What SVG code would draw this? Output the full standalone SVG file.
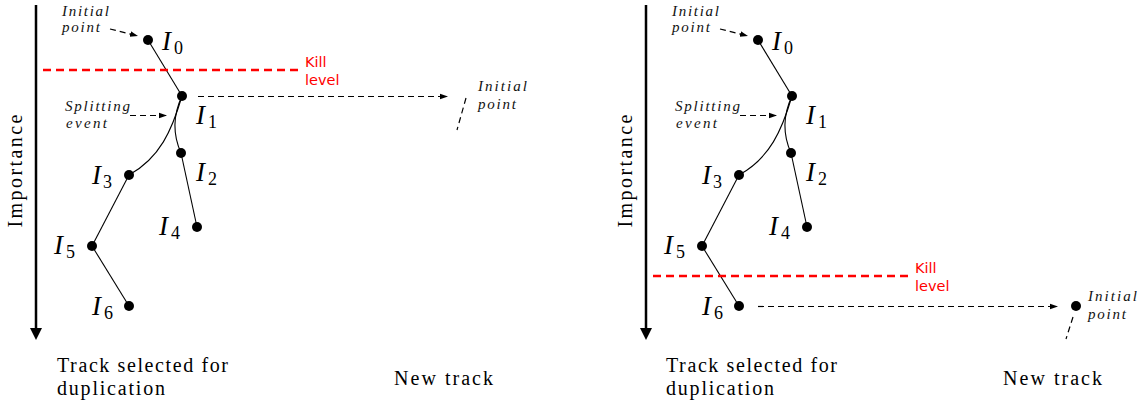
<svg xmlns="http://www.w3.org/2000/svg" width="1143" height="408" viewBox="0 0 1143 408">
<style>
.ax{stroke:#000;stroke-width:2.5;fill:none}
.ln{stroke:#000;stroke-width:1.1;fill:none}
.da{stroke:#000;stroke-width:1.2;fill:none;stroke-dasharray:6,4}
.kill{stroke:#f00;stroke-width:2.4;fill:none;stroke-dasharray:8,5}
.dot{fill:#000}
.mi{font-family:"Liberation Serif","Times New Roman",serif;font-style:italic;font-size:27px;fill:#000}
.sub{font-family:"Liberation Serif","Times New Roman",serif;font-size:18px;fill:#000}
.it{font-family:"Liberation Serif","Times New Roman",serif;font-style:italic;font-size:15px;fill:#111}
.tx{font-family:"Liberation Serif","Times New Roman",serif;font-size:20px;fill:#000}
.kt{font-family:"DejaVu Sans","Liberation Sans",sans-serif;font-size:14.5px;fill:#f00}
</style>
<defs>
<marker id="ah" viewBox="0 0 10 10" refX="10" refY="5" markerWidth="8" markerHeight="8" markerUnits="userSpaceOnUse" orient="auto"><path d="M0,1.5 L10,5 L0,8.5 Z" fill="#000"/></marker>
</defs>

<!-- LEFT PANEL -->
<g id="left-axis">
<line class="ax" x1="36" y1="5" x2="36" y2="329"/>
<path d="M30,328 L42,328 L36,340 Z" fill="#000"/>
<text class="tx" transform="translate(22,171) rotate(-90)" text-anchor="middle" textLength="113">Importance</text>
</g>
<g id="left-connectors">
<line class="ln" x1="148" y1="40" x2="182" y2="96"/>
<path class="ln" d="M182,96 C172,130 160,158 129,175"/>
<path class="ln" d="M182,96 C173,115 173,135 181,153"/>
<line class="ln" x1="181" y1="153" x2="197" y2="227"/>
<line class="ln" x1="129" y1="175" x2="92" y2="246"/>
<line class="ln" x1="92" y1="246" x2="129" y2="306"/>
<line class="da" x1="110" y1="29" x2="138" y2="36" marker-end="url(#ah)"/>
<line class="da" x1="130" y1="115.5" x2="167" y2="115.5" marker-end="url(#ah)"/>
<line class="da" x1="198" y1="96.5" x2="448" y2="96.5" marker-end="url(#ah)"/>
<line class="da" x1="466" y1="98" x2="457" y2="130"/>
</g>
<g id="left-kill">
<line class="kill" x1="43" y1="70" x2="298" y2="70"/>
<text class="kt" x="305" y="67">Kill</text>
<text class="kt" x="305" y="85">level</text>
</g>
<g id="left-I0"><circle class="dot" cx="148" cy="40" r="5"/><text class="mi" x="162" y="50">I</text><text class="sub" x="174" y="54">0</text></g>
<g id="left-I1"><circle class="dot" cx="182" cy="96" r="5"/><text class="mi" x="196" y="124">I</text><text class="sub" x="208" y="128">1</text></g>
<g id="left-I2"><circle class="dot" cx="181" cy="153" r="5"/><text class="mi" x="196" y="181">I</text><text class="sub" x="208" y="185">2</text></g>
<g id="left-I3"><circle class="dot" cx="129" cy="175" r="5"/><text class="mi" x="92" y="184">I</text><text class="sub" x="103" y="188">3</text></g>
<g id="left-I4"><circle class="dot" cx="197" cy="227" r="5"/><text class="mi" x="159" y="235">I</text><text class="sub" x="171" y="239">4</text></g>
<g id="left-I5"><circle class="dot" cx="92" cy="246" r="5"/><text class="mi" x="54" y="254">I</text><text class="sub" x="66" y="258">5</text></g>
<g id="left-I6"><circle class="dot" cx="129" cy="306" r="5"/><text class="mi" x="92" y="315">I</text><text class="sub" x="104" y="319">6</text></g>
<g id="left-labels">
<text class="it" x="62" y="16" textLength="47">Initial</text>
<text class="it" x="62" y="32" textLength="38">point</text>
<text class="it" x="65" y="111" textLength="65">Splitting</text>
<text class="it" x="66" y="128" textLength="41">event</text>
<text class="it" x="478" y="91" textLength="49">Initial</text>
<text class="it" x="478" y="109" textLength="38">point</text>
<text class="tx" x="57" y="372" textLength="171">Track selected for</text>
<text class="tx" x="57" y="395" textLength="108">duplication</text>
<text class="tx" x="394" y="385" textLength="99">New track</text>
</g>

<!-- RIGHT PANEL -->
<g id="right-axis">
<line class="ax" x1="646" y1="5" x2="646" y2="329"/>
<path d="M640,328 L652,328 L646,340 Z" fill="#000"/>
<text class="tx" transform="translate(632,171) rotate(-90)" text-anchor="middle" textLength="113">Importance</text>
</g>
<g id="right-connectors">
<line class="ln" x1="758" y1="40" x2="792" y2="96"/>
<path class="ln" d="M792,96 C782,130 770,158 739,175"/>
<path class="ln" d="M792,96 C783,115 783,135 791,153"/>
<line class="ln" x1="791" y1="153" x2="807" y2="227"/>
<line class="ln" x1="739" y1="175" x2="702" y2="246"/>
<line class="ln" x1="702" y1="246" x2="739" y2="306"/>
<line class="da" x1="720" y1="29" x2="748" y2="36" marker-end="url(#ah)"/>
<line class="da" x1="740" y1="115.5" x2="777" y2="115.5" marker-end="url(#ah)"/>
<line class="da" x1="758" y1="306.5" x2="1058" y2="306.5" marker-end="url(#ah)"/>
<line class="da" x1="1073" y1="317" x2="1066" y2="339"/>
</g>
<g id="right-kill">
<line class="kill" x1="653" y1="276" x2="908" y2="276"/>
<text class="kt" x="915" y="273">Kill</text>
<text class="kt" x="915" y="291">level</text>
</g>
<g id="right-I0"><circle class="dot" cx="758" cy="40" r="5"/><text class="mi" x="772" y="50">I</text><text class="sub" x="784" y="54">0</text></g>
<g id="right-I1"><circle class="dot" cx="792" cy="96" r="5"/><text class="mi" x="806" y="124">I</text><text class="sub" x="818" y="128">1</text></g>
<g id="right-I2"><circle class="dot" cx="791" cy="153" r="5"/><text class="mi" x="806" y="181">I</text><text class="sub" x="818" y="185">2</text></g>
<g id="right-I3"><circle class="dot" cx="739" cy="175" r="5"/><text class="mi" x="702" y="184">I</text><text class="sub" x="713" y="188">3</text></g>
<g id="right-I4"><circle class="dot" cx="807" cy="227" r="5"/><text class="mi" x="769" y="235">I</text><text class="sub" x="781" y="239">4</text></g>
<g id="right-I5"><circle class="dot" cx="702" cy="246" r="5"/><text class="mi" x="664" y="254">I</text><text class="sub" x="676" y="258">5</text></g>
<g id="right-I6"><circle class="dot" cx="739" cy="306" r="5"/><text class="mi" x="702" y="315">I</text><text class="sub" x="714" y="319">6</text></g>
<g id="right-newtrack"><circle class="dot" cx="1076" cy="306" r="5"/></g>
<g id="right-labels">
<text class="it" x="672" y="16" textLength="47">Initial</text>
<text class="it" x="672" y="32" textLength="38">point</text>
<text class="it" x="675" y="111" textLength="65">Splitting</text>
<text class="it" x="676" y="128" textLength="41">event</text>
<text class="it" x="1088" y="301" textLength="49">Initial</text>
<text class="it" x="1088" y="319" textLength="38">point</text>
<text class="tx" x="666" y="372" textLength="171">Track selected for</text>
<text class="tx" x="666" y="395" textLength="108">duplication</text>
<text class="tx" x="1003" y="385" textLength="99">New track</text>
</g>
</svg>
